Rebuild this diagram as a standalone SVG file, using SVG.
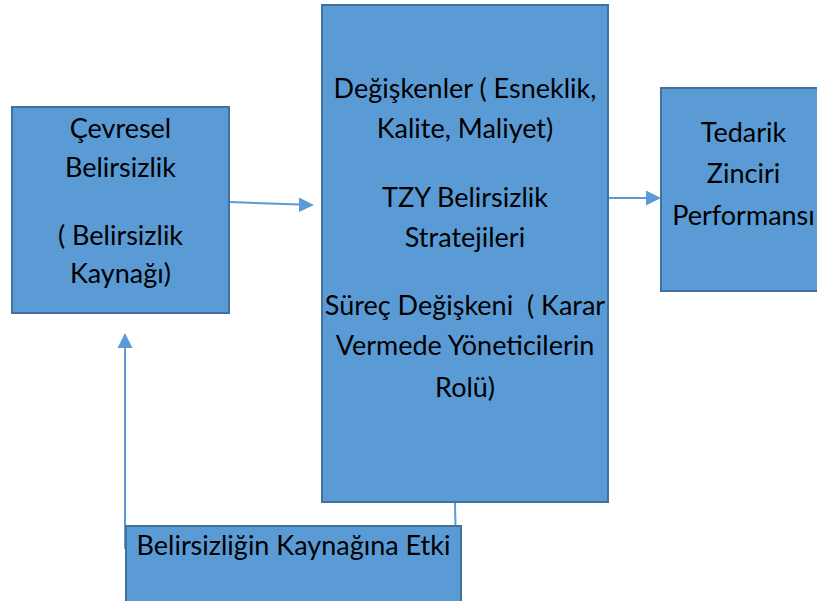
<svg xmlns="http://www.w3.org/2000/svg" width="817" height="601" viewBox="0 0 817 601">
  <style>
    .box { fill: #5B9BD5; stroke: #41719C; stroke-width: 2; }
    .lbl { font-family: Lato, "Open Sans", "Liberation Sans", sans-serif; font-size: 27px; fill: #000; text-anchor: middle; }
    .conn { stroke: #5B9BD5; stroke-width: 2; fill: none; }
    .head { fill: #5B9BD5; }
  </style>
  <rect width="817" height="601" fill="#fff"/>

  <g id="connectors">
    <line class="conn" x1="230" y1="202" x2="300" y2="204.6"/>
    <polygon class="head" points="314,205 299,197.5 299,212"/>
    <line class="conn" x1="609" y1="198" x2="647" y2="198"/>
    <polygon class="head" points="661,198 646,190.5 646,205.5"/>
    <line class="conn" x1="125" y1="549" x2="125" y2="346"/>
    <polygon class="head" points="125,333 117.5,348 132.5,348"/>
    <line class="conn" x1="455" y1="503" x2="455.5" y2="526" stroke-width="1.2"/>
  </g>

  <g id="cevresel-belirsizlik">
    <rect class="box" x="12" y="107" width="217" height="206"/>
    <text class="lbl" x="120.5" y="138">Çevresel</text>
    <text class="lbl" x="120.5" y="177">Belirsizlik</text>
    <text class="lbl" x="120.5" y="245">( Belirsizlik</text>
    <text class="lbl" x="120.5" y="283">Kaynağı)</text>
  </g>

  <g id="degiskenler">
    <rect class="box" x="322" y="5" width="286" height="497"/>
    <text class="lbl" x="465" y="98">Değişkenler ( Esneklik,</text>
    <text class="lbl" x="465" y="138">Kalite, Maliyet)</text>
    <text class="lbl" x="465" y="207">TZY Belirsizlik</text>
    <text class="lbl" x="465" y="247">Stratejileri</text>
    <text class="lbl" x="465" y="315" xml:space="preserve">Süreç Değişkeni  ( Karar</text>
    <text class="lbl" x="465" y="355">Vermede Yöneticilerin</text>
    <text class="lbl" x="465" y="397">Rolü)</text>
  </g>

  <g id="tedarik-zinciri-performansi">
    <rect class="box" x="661" y="88" width="166" height="203"/>
    <text class="lbl" x="743.5" y="142">Tedarik</text>
    <text class="lbl" x="743.5" y="183">Zinciri</text>
    <text class="lbl" x="743.5" y="225">Performansı</text>
  </g>

  <g id="belirsizligin-kaynagina-etki">
    <rect class="box" x="126" y="526" width="335" height="90"/>
    <text class="lbl" x="293.5" y="555">Belirsizliğin Kaynağına Etki</text>
  </g>
</svg>
